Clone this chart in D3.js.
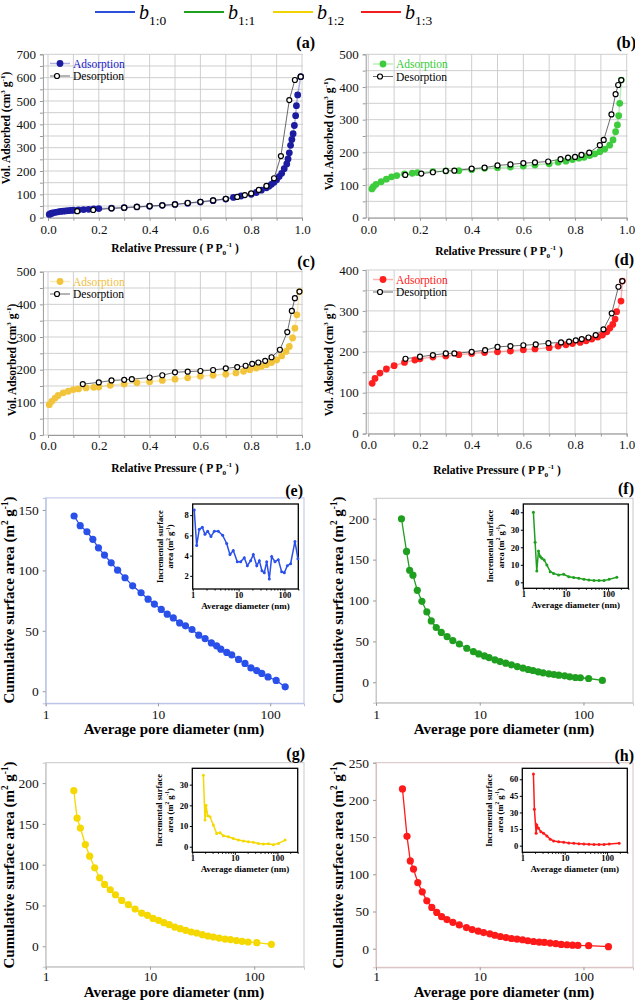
<!DOCTYPE html>
<html><head><meta charset="utf-8">
<script src="https://cdn.jsdelivr.net/npm/d3@7"></script>
<style>body{margin:0;background:#fff}</style>
</head><body><svg id="c" width="635" height="1000"></svg>
<script>
// ---------- DATA ----------
const legendLabels = ["1:0","1:1","1:2","1:3"];

const a_ads_p = [0.005,0.01,0.015,0.02,0.03,0.04,0.05,0.06,0.07,0.08,0.09,0.10,0.12,0.14,0.16,0.18,0.20,0.25,0.30,0.35,0.40,0.45,0.50,0.55,0.60,0.65,0.70,0.73,0.76,0.80,0.82,0.84,0.86,0.87,0.88,0.89,0.90,0.91,0.92,0.93,0.94,0.945,0.95,0.955,0.96,0.965,0.97,0.975,0.978,0.983,0.995];
const a_ads_v = [14,17,19,21,23,25,27,28,29,30,31,32,33,35,36,38,39,41,43,46,49,53,57,62,67,73,80,87,93,100,108,118,128,135,143,152,163,176,190,210,230,252,278,310,335,360,395,437,480,526,604];
const a_des_p = [0.995,0.972,0.95,0.917,0.89,0.86,0.83,0.80,0.775,0.745,0.70,0.65,0.60,0.55,0.50,0.45,0.40,0.35,0.30,0.25,0.178,0.115];
const a_des_v = [604,590,504,264,169,136,119,104,97,89,81,74,68,63,57,53,50,46,43,40,33,28];

const b_ads_p = [0.014,0.02,0.03,0.05,0.07,0.09,0.11,0.14,0.17,0.19,0.25,0.30,0.35,0.40,0.45,0.50,0.55,0.60,0.645,0.70,0.735,0.765,0.79,0.815,0.835,0.857,0.876,0.896,0.915,0.934,0.947,0.957,0.964,0.969,0.973,0.979];
const b_ads_v = [88,95,102,110,118,125,129,134,136,138,141,143,144,147,151,153,155,158,161,165,170,173,178,182,185,190,195,202,210,222,238,263,284,312,350,421];
const b_des_p = [0.979,0.967,0.957,0.941,0.911,0.896,0.855,0.825,0.80,0.773,0.744,0.696,0.645,0.60,0.55,0.50,0.45,0.40,0.333,0.30,0.25,0.205,0.143];
const b_des_v = [421,406,378,316,238,222,199,192,186,184,179,172,169,167,163,160,153,150,144,143,139,135,131];

const c_ads_p = [0.005,0.015,0.028,0.04,0.06,0.08,0.10,0.12,0.15,0.18,0.20,0.245,0.30,0.35,0.40,0.45,0.50,0.55,0.60,0.65,0.70,0.74,0.77,0.795,0.82,0.84,0.86,0.88,0.90,0.92,0.937,0.95,0.963,0.972,0.98,0.99];
const c_ads_v = [93,103,113,121,129,134,139,141,144,146,147,152,156,160,163,167,171,175,180,183,186,190,195,200,205,210,215,222,230,242,256,271,297,327,368,439];
const c_des_p = [0.99,0.972,0.96,0.942,0.913,0.88,0.855,0.828,0.804,0.778,0.745,0.70,0.65,0.60,0.55,0.50,0.45,0.40,0.33,0.30,0.25,0.20,0.137];
const c_des_v = [439,419,380,315,261,238,227,222,218,212,208,204,199,196,194,192,183,176,171,169,167,161,156];

const d_ads_p = [0.015,0.026,0.045,0.07,0.10,0.14,0.18,0.20,0.25,0.30,0.35,0.40,0.45,0.50,0.55,0.60,0.645,0.70,0.735,0.765,0.79,0.82,0.843,0.865,0.888,0.906,0.923,0.935,0.946,0.955,0.961,0.978,0.983];
const d_ads_v = [123,135,148,158,166,174,180,183,187,190,193,196,198,200,202,205,207,210,214,217,220,223,227,231,236,241,249,258,267,280,298,324,373];
const d_des_p = [0.983,0.968,0.942,0.91,0.88,0.852,0.826,0.803,0.777,0.746,0.697,0.648,0.60,0.55,0.50,0.452,0.40,0.333,0.30,0.25,0.20,0.144];
const d_des_v = [373,359,294,255,241,235,231,228,225,223,221,218,216,214,212,204,200,196,196,192,188,183];

const e_d = [1.79,2.03,2.33,2.63,2.95,3.34,3.83,4.37,5.09,5.95,7.07,8.17,9.29,10.7,12.1,13.7,15.6,17.6,20.1,23.1,26.3,29.9,33.3,36.3,41.0,45.4,52.2,59.6,67.3,75.8,84.1,95.6,113,136];
const e_v = [145,137,132,125.7,118.7,112.7,106.3,100.2,93.9,87.2,81.5,76.2,72.1,67.7,63.8,60.7,56.5,54.1,51.1,46.4,43.6,40.0,37.6,34.8,32.1,30.1,26.3,23.0,19.3,17.1,14.7,11.8,8.9,3.6];
const ei_d = [1.08,1.22,1.39,1.62,1.85,2.12,2.50,2.96,3.61,4.50,5.50,6.49,7.66,9.37,11.1,13.3,15.5,18.3,20.9,24.9,28.3,32.3,36.3,41.0,46.7,52.6,62.1,73.3,86.7,99.2,115,136,169,196];
const ei_v = [8.5,5.0,6.6,6.8,6.1,6.4,5.9,6.4,6.4,6.0,5.2,4.1,4.5,3.4,3.4,3.8,3.0,3.5,4.1,3.0,3.5,2.5,2.3,3.4,1.7,3.9,3.4,3.6,2.4,2.3,3.0,3.2,5.4,3.7];

const f_d = [1.76,1.97,2.11,2.27,2.50,2.77,3.09,3.41,3.81,4.26,4.85,5.5,6.36,7.5,8.68,9.77,11.1,12.3,14.0,15.7,17.8,20.2,23.0,26.1,29.3,32.6,36.6,40.8,46.3,51.9,57.8,65.8,73.7,83.6,93.3,112,152];
const f_v = [200,160,137,131,112.5,99,86,75,67,61,55.7,51,46.8,41.6,37.5,34.7,32.2,30.2,27.4,25.3,23.4,21.3,19.2,17.3,15.6,14.4,12.8,11.6,10.3,9.5,8.7,7.9,6.7,5.8,5.5,4.6,2.2];
const fi_d = [1.73,1.90,2.08,2.28,2.50,2.74,3.11,3.60,4.32,5.19,6.82,8.97,11.8,15.5,20.4,26.9,35.3,46.5,61.1,80.4,106,161];
const fi_v = [40,22.9,6.5,17.9,14.7,13.7,12.8,9.9,6.1,5.1,4.2,4.6,3.2,2.7,2.3,1.7,1.3,1.0,1.0,1.0,1.7,2.9];

const g_d = [1.86,2.0,2.15,2.40,2.64,2.95,3.29,3.67,4.16,4.67,5.36,6.21,7.2,8.32,9.47,10.7,12.1,13.6,15.3,17.3,19.5,22.0,24.9,28.1,31.8,36.0,40.6,46.1,52.5,59.2,67.5,76.5,87.4,105.8,146];
const g_v = [190.7,157,145,124.7,110.4,96.2,84,75.8,69.3,63.2,56.2,51,45.6,40.7,37.9,34.2,31.8,29,26.5,23.6,21.6,19.6,17.5,16.3,14.3,12.6,11.4,10.1,8.9,8.2,7.0,6.1,5.3,4.5,2.4];
const gi_d = [1.82,1.99,2.10,2.30,2.61,3.12,3.74,4.48,5.37,7.04,9.23,12.1,15.9,20.8,27.3,35.8,46.9,61.5,80.6,106,152];
const gi_v = [34.6,12.9,20,15,14.5,10.5,6.4,6.8,5.3,4.8,4.0,3.2,2.8,2.4,2.1,1.6,1.3,1.4,1.0,1.6,3.2];

const h_d = [1.80,1.99,2.14,2.30,2.53,2.79,3.09,3.45,3.85,4.29,4.83,5.51,6.35,7.44,8.45,9.66,10.9,12.5,14.0,15.8,17.9,20.2,22.9,25.9,29.1,33.0,37.4,42.0,47.7,54.1,61.0,69.3,78.4,88.3,112,174];
const h_v = [214.7,151,118,107,88.8,76.4,64.4,55.5,48.8,43.1,39.1,35.5,32,28.4,25.7,23.5,21.7,20,18.1,16.4,15,13.7,12.8,12,10.7,9.7,8.8,8.4,7.5,6.7,5.7,5.3,4.8,4.4,4,2.7];
const hi_d = [1.83,1.93,2.12,2.20,2.41,2.74,3.17,3.80,4.57,5.48,7.21,9.48,12.5,16.4,21.6,28.4,37.3,49.1,64.6,84.9,112,193];
const hi_v = [64.8,32.9,11.2,18.7,15.7,12.6,11.2,8.8,5.8,4.2,3.6,3.1,2.4,2.1,1.7,1.4,1.2,1.0,1.0,1.0,1.6,2.1];

// ---------- DRAWING ----------
const svg = d3.select('#c');
const FONT = "Liberation Serif";
const zip = (a,b)=>a.map((v,i)=>[v,b[i]]);

function rich(parent,x,y,parts,o){
  const size=o.size||12;
  const t=parent.append('text').attr('x',x).attr('y',y)
    .attr('font-family',FONT).attr('font-size',size)
    .attr('font-weight',o.weight||'normal').attr('text-anchor',o.anchor||'start')
    .attr('fill',o.fill||'#000');
  if(o.rotate) t.attr('transform',`rotate(-90,${x},${y})`);
  let shift=0;
  parts.forEach(p=>{
    const s=typeof p==='string'?p:p[0];
    const type=typeof p==='string'?'n':p[1];
    const target= type==='sup'? -0.42*size : type==='sub'? 0.25*size : 0;
    const ts=t.append('tspan').text(s).attr('dy',target-shift);
    shift=target;
    if(type!=='n') ts.attr('font-size',size*0.62);
  });
  return t;
}

// Top legend
const legCols=['#2b4fd8','#1fa01f','#f2d200','#f01e1e'];
const legX=[95,184,273,361];
legendLabels.forEach((lab,i)=>{
  svg.append('line').attr('x1',legX[i]).attr('x2',legX[i]+40).attr('y1',12).attr('y2',12)
    .attr('stroke',legCols[i]).attr('stroke-width',2.2);
  const t=svg.append('text').attr('x',legX[i]+44).attr('y',19).attr('font-family',FONT)
    .attr('font-size',20).attr('font-style','italic').text('b');
  t.append('tspan').attr('dy',6).attr('font-size',13.5).attr('font-style','normal').text(lab);
});

function drawIso(c){
  const g=svg.append('g');
  const x=d3.scaleLinear().domain([0,1]).range(c.xr);
  const y=d3.scaleLinear().domain([0,c.ymax]).range(c.yr);
  const L=x(c.xlo), R=x(1.004), T=y(c.ymax), B=y(0);
  const xt=d3.range(0,1.0001,0.1);
  const yt=d3.range(0,c.ymax+0.1,c.ystep/2);
  g.selectAll(null).data(xt).join('line').attr('x1',d=>x(d)).attr('x2',d=>x(d))
    .attr('y1',T).attr('y2',B).attr('stroke','#c9c9c9').attr('stroke-width',0.9);
  g.selectAll(null).data(yt).join('line').attr('x1',L).attr('x2',R)
    .attr('y1',d=>y(d)).attr('y2',d=>y(d)).attr('stroke','#c9c9c9').attr('stroke-width',0.9);
  const ax=d3.axisLeft(y).tickValues(yt).tickSize(3).tickPadding(4)
    .tickFormat(d=> d%c.ystep===0? d:'');
  const ag=g.append('g').attr('transform',`translate(${L},0)`).call(ax);
  const bx=d3.axisBottom(x).tickValues(xt).tickSize(3)
    .tickFormat(d=> Math.round(d*10)%2===0? d3.format('.1f')(d):'');
  const bg=g.append('g').attr('transform',`translate(0,${B})`).call(bx);
  [ag,bg].forEach(a=>{
    a.selectAll('path').attr('stroke','#9a9a9a');
    a.selectAll('line').attr('stroke','#9a9a9a');
    a.selectAll('text').attr('font-family',FONT).attr('font-size',13).attr('fill','#111');
  });
  bg.selectAll('text').attr('y',c.xlabY-B).attr('dy',0);
  const ads=zip(c.ads[0],c.ads[1]).sort((p,q)=>p[0]-q[0]);
  const des=zip(c.des[0],c.des[1]);
  const line=d3.line().x(d=>x(d[0])).y(d=>y(d[1]));
  g.append('path').attr('d',line(ads)).attr('fill','none').attr('stroke',c.col)
    .attr('stroke-opacity',0.35).attr('stroke-width',1.5);
  g.append('path').attr('d',line(des)).attr('fill','none').attr('stroke','#444').attr('stroke-width',0.8);
  g.selectAll(null).data(ads).join('circle').attr('cx',d=>x(d[0])).attr('cy',d=>y(d[1]))
    .attr('r',3.4).attr('fill',c.col);
  g.selectAll(null).data(des).join('circle').attr('cx',d=>x(d[0])).attr('cy',d=>y(d[1]))
    .attr('r',2.5).attr('fill','#fff').attr('stroke','#000').attr('stroke-width',1.2);
  const lx=c.leg[0], ly=c.leg[1];
  g.append('line').attr('x1',lx-10).attr('x2',lx+10).attr('y1',ly).attr('y2',ly)
    .attr('stroke',c.col).attr('stroke-opacity',0.35).attr('stroke-width',1.5);
  g.append('circle').attr('cx',lx).attr('cy',ly).attr('r',3.4).attr('fill',c.col);
  g.append('text').attr('x',lx+13).attr('y',ly+4).attr('font-family',FONT).attr('font-size',11.5)
    .attr('fill',c.tcol).text('Adsorption');
  g.append('line').attr('x1',lx-10).attr('x2',lx+10).attr('y1',ly+12.5).attr('y2',ly+12.5)
    .attr('stroke','#444').attr('stroke-width',0.8);
  g.append('circle').attr('cx',lx-3).attr('cy',ly+12.5).attr('r',2.5).attr('fill','#fff')
    .attr('stroke','#000').attr('stroke-width',1.2);
  g.append('text').attr('x',lx+13).attr('y',ly+16.5).attr('font-family',FONT).attr('font-size',11.5)
    .attr('fill','#000').text('Desorption');
  rich(g,c.ytit[0],c.ytit[1],['Vol. Adsorbed (cm',['3','sup'],' g',['-1','sup'],')'],
    {size:11.5,weight:'bold',anchor:'middle',rotate:true});
  rich(g,c.xtit[0],c.xtit[1],['Relative Pressure ( P P',['0','sub'],['-1','sup'],' )'],
    {size:11.5,weight:'bold',anchor:'middle'});
  g.append('text').attr('x',c.lab[0]).attr('y',c.lab[1]).attr('text-anchor','end')
    .attr('font-family',FONT).attr('font-size',16).attr('font-weight','bold').text(c.label);
}

drawIso({col:'#1c1ca0',tcol:'#2020c8',ads:[a_ads_p,a_ads_v],des:[a_des_p,a_des_v],
  xr:[48,302],xlo:-0.02,ymax:700,ystep:100,yr:[217.7,54.3],xlabY:234,
  leg:[60,63.5],ytit:[10,128],xtit:[175,252],lab:[315,48],label:'(a)'});
drawIso({col:'#3ccc3c',tcol:'#33cc33',ads:[b_ads_p,b_ads_v],des:[b_des_p,b_des_v],
  xr:[368.3,626.7],xlo:-0.01,ymax:500,ystep:100,yr:[217.7,54.3],xlabY:234,
  leg:[383,64],ytit:[333,134],xtit:[499,255],lab:[636,48],label:'(b)'});
drawIso({col:'#f2c43c',tcol:'#f0c040',ads:[c_ads_p,c_ads_v],des:[c_des_p,c_des_v],
  xr:[48,302],xlo:-0.02,ymax:500,ystep:100,yr:[435,271.7],xlabY:450,
  leg:[60,281.5],ytit:[16,360],xtit:[175,472],lab:[315,267],label:'(c)'});
drawIso({col:'#ff1f1f',tcol:'#ff2020',ads:[d_ads_p,d_ads_v],des:[d_des_p,d_des_v],
  xr:[368.3,626.7],xlo:-0.01,ymax:400,ystep:100,yr:[433.6,270],xlabY:449,
  leg:[383,279.5],ytit:[333,360],xtit:[497,474],lab:[634,265],label:'(d)'});

function drawCum(c){
  const g=svg.append('g');
  const x=d3.scaleLog().domain(c.xd).range(c.xr);
  const y=d3.scaleLinear().domain(c.yd).range(c.yr);
  g.append('rect').attr('x',c.xr[0]).attr('y',c.yr[1]).attr('width',c.xr[1]-c.xr[0])
    .attr('height',c.yr[0]-c.yr[1]).attr('fill','none').attr('stroke',c.frame).attr('stroke-width',1);
  const ax=d3.axisLeft(y).tickValues(c.yt).tickSize(3).tickPadding(4);
  const ag=g.append('g').attr('transform',`translate(${c.xr[0]},0)`).call(ax);
  const bx=d3.axisBottom(x).tickValues([1,10,100]).tickSize(3).tickFormat(d3.format('d'));
  const bg=g.append('g').attr('transform',`translate(0,${c.yr[0]})`).call(bx);
  [ag,bg].forEach(a=>{
    a.selectAll('path').attr('stroke',c.frame);
    a.selectAll('line').attr('stroke','#999');
    a.selectAll('text').attr('font-family',FONT).attr('font-size',13.5).attr('fill','#111');
  });
  bg.selectAll('text').attr('y',c.xlabY-c.yr[0]).attr('dy',0);
  const pts=zip(c.d,c.v);
  g.append('path').attr('d',d3.line().x(d=>x(d[0])).y(d=>y(d[1]))(pts))
    .attr('fill','none').attr('stroke',c.col).attr('stroke-width',1.3);
  g.selectAll(null).data(pts).join('circle').attr('cx',d=>x(d[0])).attr('cy',d=>y(d[1]))
    .attr('r',3.6).attr('fill',c.col);
  rich(g,c.ytit[0],c.ytit[1],['Cumulative surface area (m',['2','sup'],' g',['-1','sup'],')'],
    {size:15,weight:'bold',anchor:'middle',rotate:true});
  g.append('text').attr('x',c.xtit[0]).attr('y',c.xtit[1]).attr('text-anchor','middle')
    .attr('font-family',FONT).attr('font-size',15).attr('font-weight','bold')
    .text('Average pore diameter (nm)');
  g.append('text').attr('x',c.lab[0]).attr('y',c.lab[1]).attr('text-anchor','end')
    .attr('font-family',FONT).attr('font-size',16).attr('font-weight','bold').text(c.label);
  // inset
  const I=c.inset;
  const ix=d3.scaleLog().domain(I.xd).range([I.box[0],I.box[1]]);
  const iy=d3.scaleLinear().domain(I.yd).range([I.box[3],I.box[2]]);
  g.append('rect').attr('x',I.box[0]).attr('y',I.box[2]).attr('width',I.box[1]-I.box[0])
    .attr('height',I.box[3]-I.box[2]).attr('fill','#fff').attr('stroke','#000').attr('stroke-width',1.3);
  const iay=d3.axisLeft(iy).tickValues(I.yt).tickSize(2.5).tickPadding(1.5);
  const ia=g.append('g').attr('transform',`translate(${I.box[0]},0)`).call(iay);
  const minor=[];
  [1,10,100].forEach(p=>{for(let k=1;k<10;k++){const v=p*k; if(v>=I.xd[0]&&v<=I.xd[1]) minor.push(v);}});
  const iax=d3.axisBottom(ix).tickValues(minor).tickSize(2.5).tickPadding(2)
    .tickFormat(d=> [1,10,100].includes(d)? d:'');
  const ib=g.append('g').attr('transform',`translate(0,${I.box[3]})`).call(iax);
  [ia,ib].forEach(a=>{
    a.select('path').remove();
    a.selectAll('line').attr('stroke','#000');
    a.selectAll('text').attr('font-family',FONT).attr('font-size',8.5).attr('font-weight','bold').attr('fill','#000');
  });
  ib.selectAll('text').attr('y',9).attr('dy',0);
  ib.selectAll('.tick').filter(d=>![1,10,100].includes(d)).select('line').attr('y2',1.5);
  const ip=zip(I.d,I.v);
  g.append('path').attr('d',d3.line().x(d=>ix(d[0])).y(d=>iy(d[1]))(ip))
    .attr('fill','none').attr('stroke',c.col).attr('stroke-width',1.5);
  g.selectAll(null).data(ip).join('circle').attr('cx',d=>ix(d[0])).attr('cy',d=>iy(d[1]))
    .attr('r',1.5).attr('fill',c.col);
  const icx=(I.box[0]+I.box[1])/2, icy=(I.box[2]+I.box[3])/2;
  g.append('text').attr('x',icx).attr('y',I.box[3]+19.5).attr('text-anchor','middle')
    .attr('font-family',FONT).attr('font-size',9).attr('font-weight','bold').text('Average diameter (nm)');
  rich(g,I.box[0]-30,icy,['Incremental surface'],{size:8.5,weight:'bold',anchor:'middle',rotate:true});
  rich(g,I.box[0]-19.5,icy,['area (m',['2','sup'],' g',['-1','sup'],')'],{size:8.5,weight:'bold',anchor:'middle',rotate:true});
}

drawCum({col:'#2a50ea',frame:'#b9c2e4',d:e_d,v:e_v,xd:[1,200],xr:[45.7,304],yd:[-10,160],yr:[703.3,497.9],
  yt:[0,50,100,150],xlabY:719,xtit:[174,734],ytit:[14,600],lab:[303,496],label:'(e)',
  inset:{box:[192.7,298.3,504,589],xd:[1,200],yd:[0.7,9.1],yt:[2,4,6,8],d:ei_d,v:ei_v}});
drawCum({col:'#1f9f1f',frame:'#c8c8c8',d:f_d,v:f_v,xd:[1,300],xr:[376,633],yd:[-25,225],yr:[702.7,498.3],
  yt:[0,50,100,150,200],xlabY:719,xtit:[504,734],ytit:[343,600],lab:[634,494],label:'(f)',
  inset:{box:[523.3,628.3,504,588.3],xd:[1,300],yd:[-3.4,44.7],yt:[0,10,20,30,40],d:fi_d,v:fi_v}});
drawCum({col:'#f5d800',frame:'#c8c8c8',d:g_d,v:g_v,xd:[1,300],xr:[45.7,304],yd:[-25,225],yr:[966.7,762.7],
  yt:[0,50,100,150,200],xlabY:981,xtit:[174,997],ytit:[14,865],lab:[305,759],label:'(g)',
  inset:{box:[192.3,297.7,768.3,852.3],xd:[1,300],yd:[-2.7,37.9],yt:[0,10,20,30],d:gi_d,v:gi_v}});
drawCum({col:'#ff1a1a',frame:'#d8c0c0',d:h_d,v:h_v,xd:[1,300],xr:[376,633],yd:[-25,250],yr:[967.3,762.7],
  yt:[0,50,100,150,200,250],xlabY:981,xtit:[504,997],ytit:[343,865],lab:[634,761],label:'(h)',
  inset:{box:[522.3,627.3,768.3,852.3],xd:[1,300],yd:[-6,69.9],yt:[0,15,30,45,60],d:hi_d,v:hi_v}});
</script></body></html>
